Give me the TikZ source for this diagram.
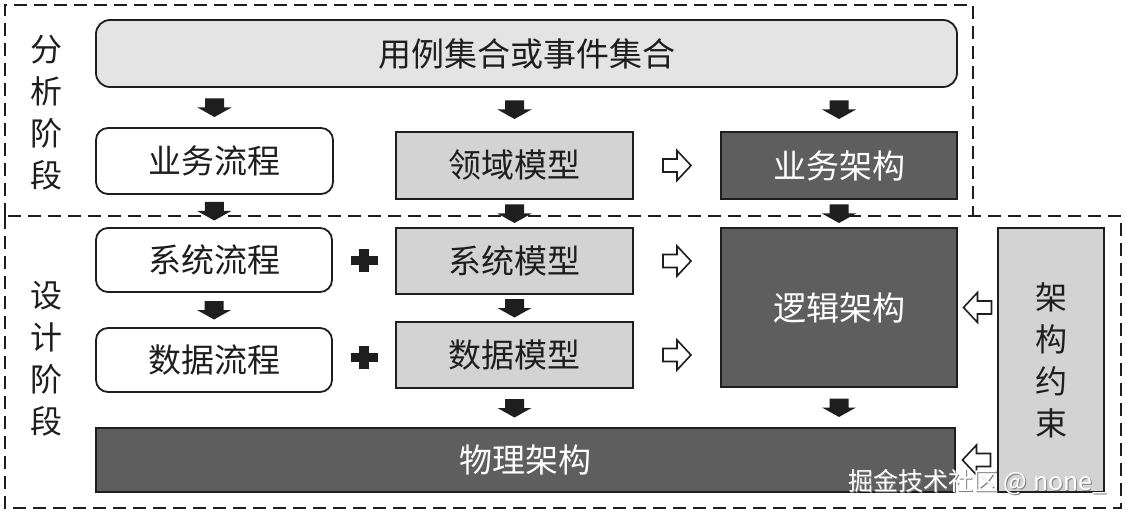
\documentclass[tikz,border=0pt]{standalone}
\usepackage{fontspec}
\newfontfamily\cjk{Noto Sans CJK SC}
\usetikzlibrary{calc}
\definecolor{lightfill}{HTML}{D3D3D3}
\definecolor{paler}{HTML}{E4E4E4}
\definecolor{darkfill}{HTML}{5F5E5E}
\definecolor{ink}{HTML}{1E1E1E}
\begin{document}
\begin{tikzpicture}[x=1pt,y=-1pt,
  box/.style={draw=ink, line width=1.8pt, inner sep=0pt, font=\cjk\fontsize{33}{38}\selectfont, text=ink},
  roundbox/.style={box, rounded corners=12pt, fill=white},
  topbox/.style={box, rounded corners=14pt, fill=paler},
  lightbox/.style={box, fill=lightfill},
  darkbox/.style={box, fill=darkfill, text=white},
  phase/.style={dash pattern=on 13pt off 7pt, line width=1.8pt, draw=ink},
  sidelabel/.style={font=\cjk\fontsize{32}{42}\selectfont, align=center, text=ink, inner sep=0pt},
  downarr/.pic={\fill[ink] (-9.5,-9) -- (9.5,-9) -- (9.5,0) -- (17,0) -- (0,9.5) -- (-17,0) -- (-9.5,0) -- cycle;},
  rarr/.pic={\draw[ink, line width=1.6pt, fill=white, line join=miter] (-14,-6.5) -- (0,-6.5) -- (0,-15) -- (14,0) -- (0,15) -- (0,6.5) -- (-14,6.5) -- cycle;},
  larr/.pic={\draw[ink, line width=1.6pt, fill=white, line join=miter] (14,-6.5) -- (0,-6.5) -- (0,-15) -- (-14,0) -- (0,15) -- (0,6.5) -- (14,6.5) -- cycle;},
  plussign/.pic={\fill[ink] (-13.5,-4.8) rectangle (13.5,4.8); \fill[ink] (-4.8,-11.5) rectangle (4.8,11.5);}
]
\useasboundingbox (0,0) rectangle (1127,513);
\fill[white] (0,0) rectangle (1127,513);

% phase frames
\draw[phase] (5,216) -- (5,5) -- (973,5) -- (973,216);
\draw[phase] (5,216) rectangle (1121,508);

% phase labels
\node[sidelabel] (anal) at (46,113) {分\\析\\阶\\段};
\node[sidelabel] (design) at (46,359) {设\\计\\阶\\段};

% nodes
\node[topbox, minimum width=861pt, minimum height=67pt] (uc) at (526.5,53.5) {用例集合或事件集合};
\node[roundbox, minimum width=237pt, minimum height=66pt] (bp) at (214.5,161) {业务流程};
\node[lightbox, minimum width=237pt, minimum height=67pt] (dm) at (514.5,165.5) {领域模型};
\node[darkbox, minimum width=236pt, minimum height=67pt] (ba) at (839,165.5) {业务架构};
\node[roundbox, minimum width=236pt, minimum height=64pt] (sp) at (214,260) {系统流程};
\node[lightbox, minimum width=237pt, minimum height=66pt] (sm) at (514.5,261) {系统模型};
\node[darkbox, minimum width=236pt, minimum height=159pt] (la) at (839,307.5) {逻辑架构};
\node[lightbox, minimum width=106pt, minimum height=264pt, align=center, font=\cjk\fontsize{32}{42}\selectfont] (ac) at (1051,360) {架\\构\\约\\束};
\node[roundbox, minimum width=236pt, minimum height=64pt] (dp) at (214,360) {数据流程};
\node[lightbox, minimum width=237pt, minimum height=66pt] (dmod) at (514.5,355) {数据模型};
\node[darkbox, minimum width=859pt, minimum height=64pt] (pa) at (525.5,460) {物理架构};

% down arrows
\pic at ($(bp.north)!0.5!(bp.north|-uc.south)$) {downarr};
\pic at ($(dm.north)!0.5!(dm.north|-uc.south)$) {downarr};
\pic at ($(ba.north)!0.5!(ba.north|-uc.south)$) {downarr};
\pic at ($(bp.south)!0.5!(sp.north)$) {downarr};
\pic at ($(dm.south)!0.5!(sm.north)$) {downarr};
\pic at ($(ba.south)!0.5!(la.north)$) {downarr};
\pic at ($(sp.south)!0.5!(dp.north)$) {downarr};
\pic at ($(sm.south)!0.5!(dmod.north)$) {downarr};
\pic at ($(dmod.south)!0.5!(dmod.south|-pa.north)$) {downarr};
\pic at ($(la.south)!0.5!(la.south|-pa.north)$) {downarr};

% hollow arrows
\pic at ($(dm.east)!0.5!(ba.west)$) {rarr};
\pic at ($(sm.east)!0.5!(la.west|-sm.east)$) {rarr};
\pic at ($(dmod.east)!0.5!(la.west|-dmod.east)$) {rarr};
\pic at ($(la.east)!0.5!(ac.west|-la.east)$) {larr};
\pic at ($(pa.east)!0.5!(ac.west|-pa.east)$) {larr};

% plus signs
\pic at ($(sp.east)!0.5!(sm.west)$) {plussign};
\pic at ($(dp.east)!0.5!(dmod.west)$) {plussign};

% watermark
\node[font=\cjk\fontsize{25}{25}\selectfont, text=gray, anchor=east] (wmshadow) at (1111.2,483.2) {掘金技术社区 @ none\_};
\node[font=\cjk\fontsize{25}{25}\selectfont, text=white, anchor=east] (wm) at (1110,482) {掘金技术社区 @ none\_};
\end{tikzpicture}
\end{document}
